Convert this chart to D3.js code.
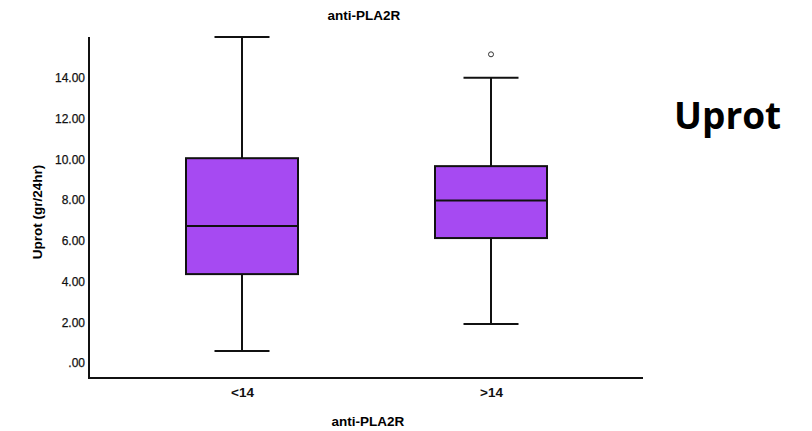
<!DOCTYPE html>
<html><head><meta charset="utf-8">
<script src="https://cdn.jsdelivr.net/npm/d3@7"></script>
<style>body{margin:0;background:#fff}</style>
</head><body>
<svg id="c" width="812" height="431"></svg>
<script>
const categories = ["<14", ">14"];
const whiskerLow = [0.59, 1.91];
const q1 = [4.36, 6.13];
const median = [6.72, 7.97];
const q3 = [10.05, 9.66];
const whiskerHigh = [16.0, 14.0];
const outliers = [[], [15.15]];
const yTicks = [0, 2, 4, 6, 8, 10, 12, 14];

(function () {
const svg = d3.select("#c");
const mLeft = 89, mRight = 643, mTop = 37, mBottom = 378;
const y = d3.scaleLinear().domain([-0.74, 16]).range([mBottom, mTop]);
const x = d3.scalePoint().domain(categories).range([242, 491]);
const boxW = 112, capW = 55;
const font = "'Liberation Sans', Arial, sans-serif";

// y axis
const ya = svg.append("g").attr("transform", `translate(${mLeft},0)`)
  .call(d3.axisLeft(y).tickValues(yTicks).tickSize(0).tickPadding(4)
    .tickFormat(d => d === 0 ? ".00" : d3.format(".2f")(d)));
ya.select(".domain").remove();
ya.selectAll("text").attr("font-family", font).attr("font-size", 12).attr("fill", "#111")
  .attr("font-weight", "normal").attr("stroke", "#111").attr("stroke-width", 0.25);
svg.append("line").attr("x1", mLeft).attr("x2", mLeft).attr("y1", mTop).attr("y2", mBottom + 1)
  .attr("stroke", "#111").attr("stroke-width", 2);

// x axis
const xa = svg.append("g").attr("transform", `translate(0,${mBottom})`)
  .call(d3.axisBottom(x).tickSize(0).tickPadding(9));
xa.select(".domain").remove();
xa.selectAll("text").attr("font-family", font).attr("font-size", 13.5).attr("font-weight", "bold").attr("fill", "#111");
svg.append("line").attr("x1", mLeft - 1).attr("x2", mRight).attr("y1", mBottom).attr("y2", mBottom)
  .attr("stroke", "#111").attr("stroke-width", 2);

// boxes
categories.forEach((c, i) => {
  const cx = x(c);
  const g = svg.append("g").attr("stroke", "#111").attr("stroke-width", 2);
  g.append("line").attr("x1", cx).attr("x2", cx).attr("y1", y(whiskerHigh[i])).attr("y2", y(q3[i]));
  g.append("line").attr("x1", cx).attr("x2", cx).attr("y1", y(q1[i])).attr("y2", y(whiskerLow[i]));
  g.append("line").attr("x1", cx - capW / 2).attr("x2", cx + capW / 2).attr("y1", y(whiskerHigh[i])).attr("y2", y(whiskerHigh[i]));
  g.append("line").attr("x1", cx - capW / 2).attr("x2", cx + capW / 2).attr("y1", y(whiskerLow[i])).attr("y2", y(whiskerLow[i]));
  g.append("rect").attr("x", cx - boxW / 2).attr("width", boxW)
    .attr("y", y(q3[i])).attr("height", y(q1[i]) - y(q3[i])).attr("fill", "#a64af2");
  g.append("line").attr("x1", cx - boxW / 2).attr("x2", cx + boxW / 2).attr("y1", y(median[i])).attr("y2", y(median[i]));
  outliers[i].forEach(v => {
    svg.append("circle").attr("cx", cx).attr("cy", y(v)).attr("r", 2.5)
      .attr("fill", "none").attr("stroke", "#333").attr("stroke-width", 1);
  });
});

// titles
svg.append("text").attr("x", 364).attr("y", 20).attr("text-anchor", "middle")
  .attr("font-family", font).attr("font-size", 13.5).attr("font-weight", "bold").text("anti-PLA2R");
svg.append("text").attr("x", 368).attr("y", 426).attr("text-anchor", "middle")
  .attr("font-family", font).attr("font-size", 13.5).attr("font-weight", "bold").text("anti-PLA2R");
svg.append("text").attr("transform", "translate(42,212) rotate(-90)").attr("text-anchor", "middle")
  .attr("font-family", font).attr("font-size", 13.5).attr("font-weight", "bold").text("Uprot (gr/24hr)");
svg.append("text").attr("x", 674).attr("y", 129)
  .attr("font-family", "'Open Sans', sans-serif").attr("font-size", 37).attr("font-weight", 700).text("Uprot");
})();
</script>
</body></html>
